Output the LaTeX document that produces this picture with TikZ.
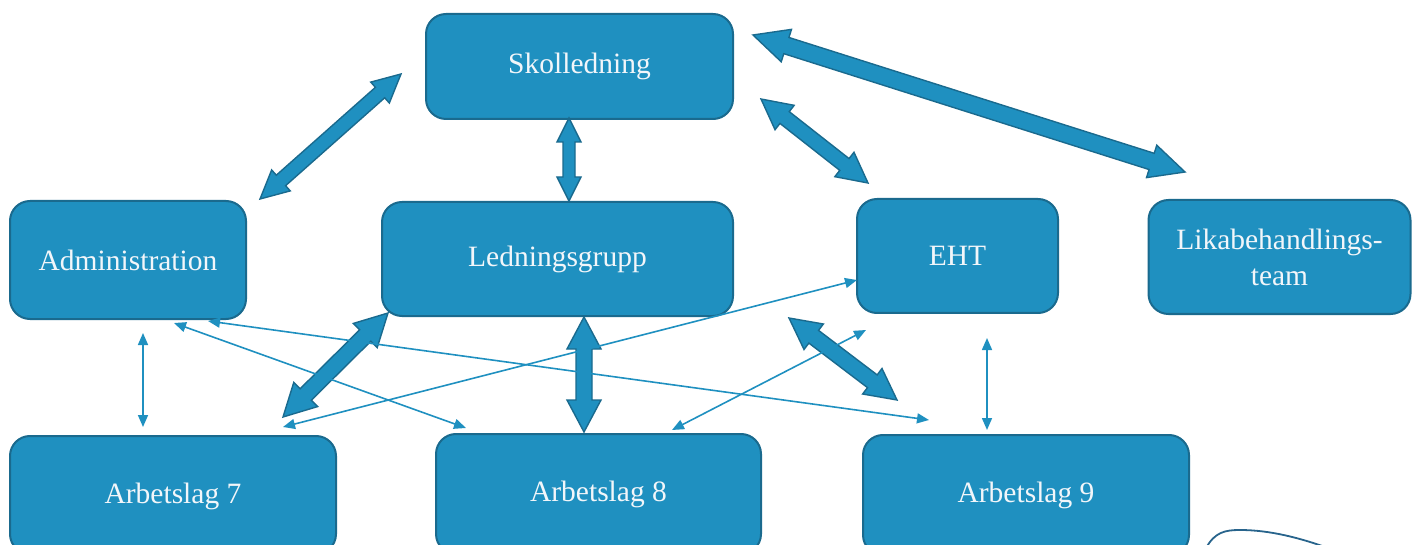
\documentclass[tikz,border=0pt]{standalone}
\usepackage{fontspec}
\setmainfont{Liberation Serif}
\usetikzlibrary{calc,arrows.meta}
\definecolor{boxfill}{RGB}{31,144,192}
\definecolor{boxline}{RGB}{26,106,142}
\definecolor{txtcol}{RGB}{242,246,250}
\definecolor{curvecol}{RGB}{40,100,140}
\tikzset{
  box/.style={draw=boxline, fill=boxfill, line width=2pt, rounded corners=20pt, inner sep=0pt},
  txt/.style={text=txtcol, font=\fontsize{29.5}{36}\selectfont, align=center},
  thin/.style={draw=boxfill, line width=1.6pt, {Triangle[length=12pt,width=10pt]}-{Triangle[length=12pt,width=10pt]}},
  blockarrow/.style={fill=boxfill, draw=boxline, line width=1.4pt, line join=miter}
}
% #1 tip A, #2 tip B, #3 shaft half width, #4 head half width, #5 head length
\newcommand{\dblblock}[5]{%
  \coordinate (ta) at ($(#1)!#5!(#2)$);
  \coordinate (tb) at ($(#2)!#5!(#1)$);
  \path[blockarrow] (#1) -- ($(ta)!#4!90:(#2)$) -- ($(ta)!#3!90:(#2)$)
    -- ($(tb)!#3!-90:(#1)$) -- ($(tb)!#4!-90:(#1)$) -- (#2)
    -- ($(tb)!#4!90:(#1)$) -- ($(tb)!#3!90:(#1)$)
    -- ($(ta)!#3!-90:(#2)$) -- ($(ta)!#4!-90:(#2)$) -- cycle;
}
\begin{document}
\begin{tikzpicture}[x=1pt,y=-1pt]
\useasboundingbox (0,0) rectangle (1416,545);
% boxes
\node[box, minimum width=307pt, minimum height=105pt, txt] (skol) at (579.5,66.5) {Skolledning};
\node[box, minimum width=236pt, minimum height=118pt, txt] (adm) at (128,260) {Administration};
\node[box, minimum width=351pt, minimum height=114pt, txt] (led) at (557.5,259) {Ledningsgrupp};
\node[box, minimum width=201pt, minimum height=114pt, txt] (eht) at (957.5,256) {EHT};
\node[box, minimum width=262pt, minimum height=114pt, txt] (lika) at (1279.5,257) {Likabehandlings-\\team};
\node[box, minimum width=326pt, minimum height=118pt,
  label={[txt, yshift=-1pt]center:Arbetslag 7}] (a7) at (173,495) {};
\node[box, minimum width=325pt, minimum height=120pt,
  label={[txt, yshift=0pt]center:Arbetslag 8}] (a8) at (598.5,494) {};
\node[box, minimum width=326pt, minimum height=120pt,
  label={[txt, yshift=0pt]center:Arbetslag 9}] (a9) at (1026,495) {};
% block arrow end points
\coordinate (s1a) at (401,74);   \coordinate (s1b) at (260,199);
\coordinate (s2a) at (569,118);  \coordinate (s2b) at (569,201);
\coordinate (s3a) at (761,99);   \coordinate (s3b) at (868,183);
\coordinate (s4a) at (753,35);   \coordinate (s4b) at (1185,172);
\coordinate (l1a) at (388,313);  \coordinate (l1b) at (283,417);
\coordinate (l2a) at (584,317);  \coordinate (l2b) at (584,432);
\coordinate (l3a) at (789,318);  \coordinate (l3b) at (897,400);
\dblblock{s1a}{s1b}{7pt}{14pt}{28pt}
\dblblock{s2a}{s2b}{6pt}{12pt}{24pt}
\dblblock{s3a}{s3b}{7.5pt}{15.5pt}{30pt}
\dblblock{s4a}{s4b}{8.5pt}{17pt}{35pt}
\dblblock{l1a}{l1b}{8pt}{17pt}{32pt}
\dblblock{l2a}{l2b}{8pt}{17pt}{32pt}
\dblblock{l3a}{l3b}{8pt}{16pt}{31pt}
% thin arrows
\coordinate (t1a) at (143,333); \coordinate (t1b) at (143,427);
\coordinate (t2a) at (174,323); \coordinate (t2b) at (466,428);
\coordinate (t3a) at (208,321); \coordinate (t3b) at (929,420);
\coordinate (t4a) at (283,427); \coordinate (t4b) at (857,280);
\coordinate (t5a) at (672,430); \coordinate (t5b) at (866,330);
\coordinate (t6a) at (987,338); \coordinate (t6b) at (987,430);
\draw[thin] (t1a) -- (t1b);
\draw[thin] (t2a) -- (t2b);
\draw[thin] (t3a) -- (t3b);
\draw[thin] (t4a) -- (t4b);
\draw[thin] (t5a) -- (t5b);
\draw[thin] (t6a) -- (t6b);
% partial curve at bottom right
\coordinate (c0) at (1206,548);
\coordinate (c1) at (1240,530);
\coordinate (c2) at (1328,548);
\draw[curvecol, line width=1.8pt] (c0) .. controls (1215,532) and (1225,530) .. (c1)
  .. controls (1270,530) and (1300,538) .. (c2);
\end{tikzpicture}
\end{document}
